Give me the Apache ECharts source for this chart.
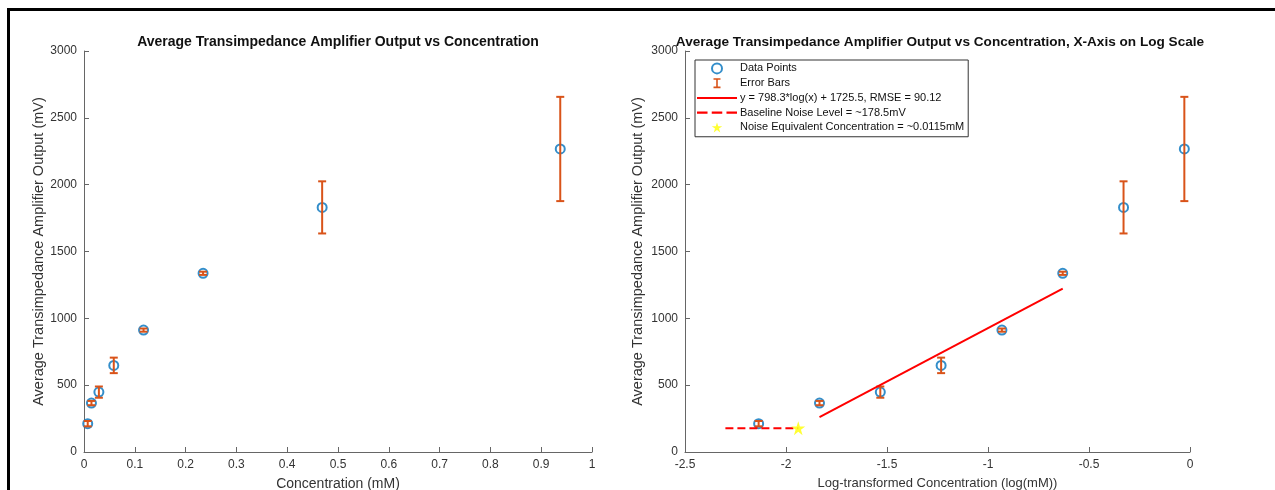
<!DOCTYPE html>
<html>
<head>
<meta charset="utf-8">
<script src="https://cdn.jsdelivr.net/npm/echarts@6/dist/echarts.min.js"></script>
<style>
  html, body { margin: 0; padding: 0; background: #fff; }
  #main { width: 1275px; height: 490px; }
</style>
</head>
<body>
<div id="main"></div>
<script>
// concentration (mM) and averaged TIA output (mV)
var concentration = [0.00732, 0.01465, 0.0293, 0.0586, 0.1172, 0.2344, 0.4688, 0.9375];
var output = [212, 366, 448, 648, 912, 1337, 1830, 2267];
var errHalf = [20, 16, 42, 58, 12, 12, 195, 390];

// fit y = a*log10(x) + b over points 2..6
var fitA = 798.3, fitB = 1725.5, fitFrom = 1, fitTo = 5;
var baseline = 178.5;
var baselineStartX = -2.3;
var noiseConc = 0.0115;

var xTicksLeft = { min: 0, max: 1, interval: 0.1 };
var xTicksRight = { min: -2.5, max: 0, interval: 0.5 };
var yTicks = { min: 0, max: 3000, interval: 500 };

var BLUE = '#0072BD', ORANGE = '#D95319', RED = '#FF0000', YELLOW = '#FFFF00';
var FONT = '"Liberation Sans", Arial, Helvetica, sans-serif';
var TXT = '#333333', AXIS = '#666666';
var STAR = 'path://M50,0L61.2,34.5L97.6,34.5L68.2,55.9L79.4,90.5L50,69.1L20.6,90.5L31.8,55.9L2.4,34.5L38.8,34.5Z';
var IBEAM = 'path://M0,0H7V1.6H4.3V8.4H7V10H0V8.4H2.7V1.6H0Z';
var SOLID = 'path://M0,0H40V2H0Z';
var DASHED = 'path://M0,0H10V2H0Z M14,0H24V2H14Z M28,0H38V2H28Z';

var logConc = concentration.map(function (c) { return Math.log10(c); });

function pts(xs) {
  return xs.map(function (x, i) { return [x, output[i]]; });
}
function bars(xs) {
  return xs.map(function (x, i) { return [x, output[i] - errHalf[i], output[i] + errHalf[i]]; });
}

function errorBarItem(params, api) {
  var x = api.value(0);
  var hi = api.coord([x, api.value(2)]);
  var lo = api.coord([x, api.value(1)]);
  var w = 4;
  var st = { stroke: ORANGE, lineWidth: 2, fill: null };
  return {
    type: 'group',
    children: [
      { type: 'line', shape: { x1: hi[0], y1: hi[1], x2: lo[0], y2: lo[1] }, style: st },
      { type: 'line', shape: { x1: hi[0] - w, y1: hi[1], x2: hi[0] + w, y2: hi[1] }, style: st },
      { type: 'line', shape: { x1: lo[0] - w, y1: lo[1], x2: lo[0] + w, y2: lo[1] }, style: st }
    ]
  };
}

function xAxisOpt(grid, ticks, name, fs) {
  return {
    type: 'value', gridIndex: grid, min: ticks.min, max: ticks.max, interval: ticks.interval,
    position: 'bottom',
    name: name, nameLocation: 'middle', nameGap: 25,
    nameTextStyle: { fontFamily: FONT, fontSize: fs, color: TXT },
    axisLine: { show: true, onZero: false, lineStyle: { color: AXIS, width: 1 } },
    axisTick: { show: true, inside: true, length: 5, lineStyle: { color: AXIS } },
    axisLabel: { fontFamily: FONT, fontSize: 12, color: TXT, margin: 7 },
    splitLine: { show: false }
  };
}
function yAxisOpt(grid, gap) {
  return {
    type: 'value', gridIndex: grid, min: yTicks.min, max: yTicks.max, interval: yTicks.interval,
    position: 'left',
    name: 'Average Transimpedance Amplifier Output (mV)', nameLocation: 'middle', nameGap: gap,
    nameTextStyle: { fontFamily: FONT, fontSize: 14.5, color: TXT },
    axisLine: { show: true, onZero: false, lineStyle: { color: AXIS, width: 1 } },
    axisTick: { show: true, inside: true, length: 5, lineStyle: { color: AXIS } },
    axisLabel: { fontFamily: FONT, fontSize: 12, color: TXT, margin: 7,
      formatter: function (v) { return String(v); } },
    splitLine: { show: false }
  };
}

var fitData = [fitFrom, fitTo].map(function (i) {
  return [logConc[i], fitA * logConc[i] + fitB];
});
var noiseX = Math.log10(noiseConc);

var chart = echarts.init(document.getElementById('main'), null, { renderer: 'canvas' });
chart.setOption({
  animation: false,
  backgroundColor: '#fff',
  title: [
    { text: 'Average Transimpedance Amplifier Output vs Concentration', left: 333, top: 30, textAlign: 'center',
      textStyle: { fontFamily: FONT, fontSize: 14, fontWeight: 'bold', color: '#111' } },
    { text: 'Average Transimpedance Amplifier Output vs Concentration, X-Axis on Log Scale', left: 935, top: 30, textAlign: 'center',
      textStyle: { fontFamily: FONT, fontSize: 13.6, fontWeight: 'bold', color: '#111' } }
  ],
  grid: [
    { left: 84, top: 51, width: 508, height: 401, outerBoundsMode: 'none', containLabel: false },
    { left: 685, top: 51, width: 505, height: 401, outerBoundsMode: 'none', containLabel: false }
  ],
  xAxis: [
    xAxisOpt(0, xTicksLeft, 'Concentration (mM)', 14),
    xAxisOpt(1, xTicksRight, 'Log-transformed Concentration (log(mM))', 13)
  ],
  yAxis: [yAxisOpt(0, 38), yAxisOpt(1, 40)],
  legend: {
    left: 695, top: 60, orient: 'vertical',
    padding: [1, 4, 2, 2],
    itemWidth: 40, itemHeight: 10, itemGap: 0,
    borderColor: '#333', borderWidth: 1, backgroundColor: '#fff',
    textStyle: { fontFamily: FONT, fontSize: 11, color: '#111', lineHeight: 14.75, padding: [0, 0, 0, -2] },
    data: [
      { name: 'Data Points', icon: 'emptyCircle' },
      { name: 'Error Bars', icon: IBEAM },
      { name: 'y = 798.3*log(x) + 1725.5, RMSE = 90.12', icon: SOLID },
      { name: 'Baseline Noise Level = ~178.5mV', icon: DASHED },
      { name: 'Noise Equivalent Concentration = ~0.0115mM', icon: STAR }
    ]
  },
  graphic: [
    { type: 'rect', shape: { x: 7, y: 8, width: 1268, height: 3 }, style: { fill: '#000' } },
    { type: 'rect', shape: { x: 7, y: 8, width: 3, height: 482 }, style: { fill: '#000' } }
  ],
  series: [
    { name: 'Data Points', type: 'scatter', xAxisIndex: 0, yAxisIndex: 0, data: pts(concentration),
      symbol: 'emptyCircle', symbolSize: 9, z: 3,
      itemStyle: { color: BLUE, borderColor: BLUE, borderWidth: 2.5 } },
    { name: 'Error Bars', type: 'custom', xAxisIndex: 0, yAxisIndex: 0, data: bars(concentration),
      renderItem: errorBarItem, encode: { x: 0, y: [1, 2] }, z: 4,
      itemStyle: { color: ORANGE } },

    { name: 'Data Points', type: 'scatter', xAxisIndex: 1, yAxisIndex: 1, data: pts(logConc),
      symbol: 'emptyCircle', symbolSize: 9, z: 3,
      itemStyle: { color: BLUE, borderColor: BLUE, borderWidth: 2.5 } },
    { name: 'Error Bars', type: 'custom', xAxisIndex: 1, yAxisIndex: 1, data: bars(logConc),
      renderItem: errorBarItem, encode: { x: 0, y: [1, 2] }, z: 4,
      itemStyle: { color: ORANGE } },
    { name: 'y = 798.3*log(x) + 1725.5, RMSE = 90.12', type: 'line', xAxisIndex: 1, yAxisIndex: 1,
      data: fitData, symbol: 'none', z: 5,
      itemStyle: { color: RED }, lineStyle: { color: RED, width: 2 } },
    { name: 'Baseline Noise Level = ~178.5mV', type: 'line', xAxisIndex: 1, yAxisIndex: 1,
      data: [[baselineStartX, baseline], [noiseX, baseline]], symbol: 'none', z: 5,
      itemStyle: { color: RED }, lineStyle: { color: RED, width: 2, type: [8, 4] } },
    { name: 'Noise Equivalent Concentration = ~0.0115mM', type: 'scatter', xAxisIndex: 1, yAxisIndex: 1,
      data: [[noiseX, baseline]], symbol: STAR, symbolSize: 14, z: 6,
      itemStyle: { color: YELLOW } }
  ]
});
</script>
</body>
</html>
